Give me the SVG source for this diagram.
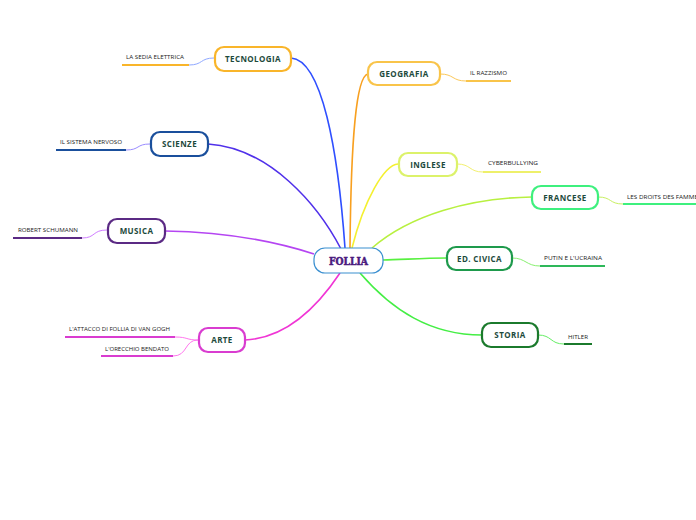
<svg xmlns="http://www.w3.org/2000/svg" width="696" height="520" viewBox="0 0 696 520">
<style>
.node{fill:#fff;stroke-width:2.2}
.lbl{font-family:"Open Sans","Liberation Sans",sans-serif;font-weight:bold;font-size:8px;fill:#1d4a3c;text-anchor:middle;letter-spacing:0.4px}
.sub{font-family:"Open Sans","Liberation Sans",sans-serif;font-size:5.2px;fill:#222}
.main{fill:none;stroke-width:1.6}
.thin{fill:none;stroke-width:1}
.ul{stroke-width:2;fill:none}
</style>
<rect width="696" height="520" fill="#fff"/>
<g id="connectors">
<path class="main" stroke="#2f4fff" d="M291,58 C322,60 338,150 345,248"/>
<path class="main" stroke="#5030ea" d="M208,144 C270,148 318,205 341,249"/>
<path class="main" stroke="#b545f2" d="M165,231 C230,232 280,243 314,254"/>
<path class="main" stroke="#f035d5" d="M245,340 C290,338 322,300 340,273"/>
<path class="main" stroke="#f8a020" d="M368,74 C356,76 351,140 350,248"/>
<path class="main" stroke="#f4f030" d="M398,164 C384,165 364,200 352,248"/>
<path class="main" stroke="#b8f040" d="M532,197 C470,198 410,215 372,248"/>
<path class="main" stroke="#58f040" d="M447,258 C420,258 400,260 383,260"/>
<path class="main" stroke="#44ee44" d="M482,335 C430,335 392,310 360,273"/>
<path class="thin" stroke="#8fa8ff" d="M189,65 C203,65 200,58 214,58"/>
<path class="thin" stroke="#9a8cff" d="M126,150 C140,150 136,144 150,144"/>
<path class="thin" stroke="#d07dff" d="M82,238 C96,238 92,230 107,230"/>
<path class="thin" stroke="#ff77ee" d="M175,337 C188,337 186,340 198,340"/>
<path class="thin" stroke="#ff77ee" d="M173,356 C188,356 184,340 198,340"/>
<path class="thin" stroke="#fbc85a" d="M440,74 C454,74 452,81 466,81"/>
<path class="thin" stroke="#f2f070" d="M457,164 C471,164 469,172 483,172"/>
<path class="thin" stroke="#c8f060" d="M598,197 C612,197 609,204 623,204"/>
<path class="thin" stroke="#88f070" d="M512,258 C526,258 526,266 540,266"/>
<path class="thin" stroke="#66ee66" d="M538,335 C552,335 550,344 564,344"/>
</g>
<g id="center">
<rect x="314" y="248" width="69" height="25" rx="11" fill="#fff" stroke="#3a8fd0" stroke-width="1.2"/>
<text x="329" y="265" font-family="'DejaVu Serif',serif" font-weight="bold" font-size="10.5" fill="#4a1a7e" stroke="#4a1a7e" stroke-width="0.5" textLength="39" lengthAdjust="spacingAndGlyphs">FOLLIA</text>
</g>
<g id="tecnologia">
<rect class="node" x="215" y="47" width="76" height="24" rx="9" stroke="#f9b52a"/>
<text class="lbl" x="253" y="62">TECNOLOGIA</text>
</g>
<g id="sedia">
<path class="ul" stroke="#f9b52a" d="M122,65 H189"/>
<text class="sub" x="126" y="59" textLength="58" lengthAdjust="spacingAndGlyphs">LA SEDIA ELETTRICA</text>
</g>
<g id="scienze">
<rect class="node" x="151" y="132" width="57" height="24" rx="9" stroke="#1a4f9c"/>
<text class="lbl" x="179.5" y="147">SCIENZE</text>
</g>
<g id="sistema">
<path class="ul" stroke="#1a4f9c" d="M56,150 H126"/>
<text class="sub" x="60" y="144" textLength="62" lengthAdjust="spacingAndGlyphs">IL SISTEMA NERVOSO</text>
</g>
<g id="musica">
<rect class="node" x="108" y="219" width="57" height="24" rx="9" stroke="#5b2a84"/>
<text class="lbl" x="136.5" y="234">MUSICA</text>
</g>
<g id="schumann">
<path class="ul" stroke="#5b2a84" d="M13,238 H82"/>
<text class="sub" x="18" y="232" textLength="60" lengthAdjust="spacingAndGlyphs">ROBERT SCHUMANN</text>
</g>
<g id="arte">
<rect class="node" x="199" y="328" width="46" height="24" rx="9" stroke="#d93cd0"/>
<text class="lbl" x="222" y="343">ARTE</text>
</g>
<g id="vangogh">
<path class="ul" stroke="#d93cd0" d="M65,337 H175"/>
<text class="sub" x="69" y="331" textLength="101" lengthAdjust="spacingAndGlyphs">L'ATTACCO DI FOLLIA DI VAN GOGH</text>
</g>
<g id="orecchio">
<path class="ul" stroke="#d93cd0" d="M101,356 H173"/>
<text class="sub" x="105" y="351" textLength="64" lengthAdjust="spacingAndGlyphs">L'ORECCHIO BENDATO</text>
</g>
<g id="geografia">
<rect class="node" x="368" y="62" width="72" height="23" rx="9" stroke="#f9c44a"/>
<text class="lbl" x="404" y="76.5">GEOGRAFIA</text>
</g>
<g id="razzismo">
<path class="ul" stroke="#f9c44a" d="M466,81 H511"/>
<text class="sub" x="470" y="75" textLength="37" lengthAdjust="spacingAndGlyphs">IL RAZZISMO</text>
</g>
<g id="inglese">
<rect class="node" x="399" y="153" width="58" height="23" rx="9" stroke="#dcf26a"/>
<text class="lbl" x="428" y="167.5">INGLESE</text>
</g>
<g id="cyber">
<path class="ul" stroke="#eef06a" d="M483,172 H541"/>
<text class="sub" x="488" y="165" textLength="50" lengthAdjust="spacingAndGlyphs">CYBERBULLYING</text>
</g>
<g id="francese">
<rect class="node" x="532" y="186" width="66" height="23" rx="9" stroke="#3ef07e"/>
<text class="lbl" x="565" y="200.5">FRANCESE</text>
</g>
<g id="droits">
<path class="ul" stroke="#3ef07e" d="M623,204 H696"/>
<text class="sub" x="627" y="199" textLength="71" lengthAdjust="spacingAndGlyphs">LES DROITS DES FAMME</text>
</g>
<g id="edcivica">
<rect class="node" x="447" y="247" width="65" height="23" rx="9" stroke="#1e9a4c"/>
<text class="lbl" x="479.5" y="261.5">ED. CIVICA</text>
</g>
<g id="putin">
<path class="ul" stroke="#2eb85a" d="M540,266 H605"/>
<text class="sub" x="544" y="260" textLength="58" lengthAdjust="spacingAndGlyphs">PUTIN E  L'UCRAINA</text>
</g>
<g id="storia">
<rect class="node" x="482" y="323" width="56" height="24" rx="9" stroke="#1b7a2c"/>
<text class="lbl" x="510" y="338">STORIA</text>
</g>
<g id="hitler">
<path class="ul" stroke="#1b7a2c" d="M564,344 H592"/>
<text class="sub" x="568" y="339" textLength="20" lengthAdjust="spacingAndGlyphs">HITLER</text>
</g>
</svg>
